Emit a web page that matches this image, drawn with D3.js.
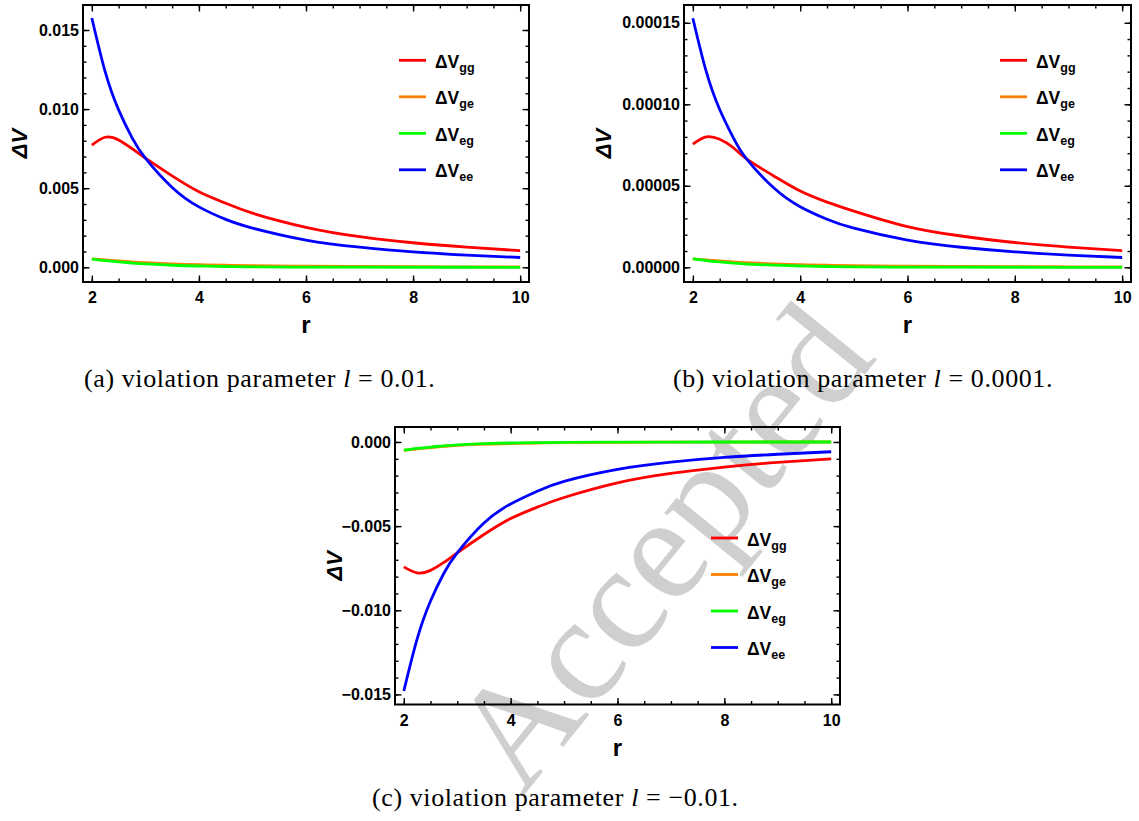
<!DOCTYPE html>
<html>
<head>
<meta charset="utf-8">
<script src="https://cdn.jsdelivr.net/npm/d3@7"></script>
<style>
  body { margin: 0; background: #fff; }
  svg { display: block; }
</style>
</head>
<body>
<div class="svgHolder"></div>
<script>
const wd = 1139
const ht = 821

// sampled r values (same for every panel)
const rValues = [2, 2.25, 2.5, 2.75, 3, 3.5, 4, 4.5, 5, 6, 7, 8, 9, 10]

// panel (a) l = 0.01
const ggA = [0.00772, 0.00822, 0.00805, 0.00750, 0.00690, 0.00578, 0.00478, 0.00405, 0.00342, 0.00253, 0.00194, 0.00155, 0.00127, 0.00105]
const geA = [0.00053, 0.00046, 0.00040, 0.00034, 0.00029, 0.00021, 0.00016, 0.00013, 0.00010, 0.00007, 0.00005, 0.00004, 0.00003, 0.00002]
const egA = [0.00052, 0.00042, 0.00034, 0.00027, 0.00021, 0.00013, 0.00008, 0.00005, 0.00003, 0.00001, 0.000005, 0.000002, 0.000001, 0]
const eeA = [0.01576, 0.01235, 0.00995, 0.00820, 0.00690, 0.00505, 0.00382, 0.00303, 0.00248, 0.00172, 0.00127, 0.00097, 0.00077, 0.00062]

// panel (b) l = 0.0001
const ggB = [0.0000756, 0.0000800, 0.0000785, 0.0000735, 0.0000665, 0.0000562, 0.0000468, 0.0000400, 0.0000345, 0.0000250, 0.0000192, 0.0000152, 0.0000124, 0.0000102]
const geB = [0.0000052, 0.0000045, 0.0000039, 0.0000033, 0.0000028, 0.0000021, 0.0000016, 0.0000013, 0.0000010, 0.0000007, 0.0000005, 0.0000004, 0.0000003, 0.0000002]
const egB = [0.0000051, 0.0000041, 0.0000033, 0.0000026, 0.0000020, 0.0000013, 0.0000008, 0.0000005, 0.0000003, 0.0000001, 0.00000005, 0.00000002, 0.00000001, 0]
const eeB = [0.0001528, 0.0001200, 0.0000968, 0.0000797, 0.0000665, 0.0000490, 0.0000372, 0.0000295, 0.0000240, 0.0000167, 0.0000123, 0.0000095, 0.0000075, 0.0000060]

// panel (c) l = -0.01
const ggC = [-0.00742, -0.00778, -0.00763, -0.00716, -0.00659, -0.00550, -0.00455, -0.00387, -0.00330, -0.00243, -0.00187, -0.00149, -0.00121, -0.00100]
const geC = [-0.00050, -0.00041, -0.00033, -0.00026, -0.00020, -0.00013, -0.00009, -0.00006, -0.00004, -0.00002, -0.00001, -0.000005, -0.000002, -0.000001]
const egC = [-0.00048, -0.00038, -0.00030, -0.00023, -0.00017, -0.00010, -0.00006, -0.00004, -0.00002, -0.00001, -0.000005, -0.000002, -0.000001, 0]
const eeC = [-0.0148, -0.0117, -0.00945, -0.00780, -0.00659, -0.00482, -0.00368, -0.00292, -0.00234, -0.00163, -0.00120, -0.00092, -0.00073, -0.00058]

const seriesNames = ["gg", "ge", "eg", "ee"]
const seriesCols = ["rgb(255,0,0)", "rgb(255,128,0)", "rgb(0,255,0)", "rgb(0,0,255)"]

const xTicks = [2, 4, 6, 8, 10]
const yTicksA = [0, 0.005, 0.010, 0.015]
const yTicksB = [0, 0.00005, 0.00010, 0.00015]
const yTicksC = [-0.015, -0.010, -0.005, 0]

const captions = [
  {tag: "(a) violation parameter ", val: " = 0.01."},
  {tag: "(b) violation parameter ", val: " = 0.0001."},
  {tag: "(c) violation parameter ", val: " = \u22120.01."}
]

const xDomain = [1.835, 10.165]

const panels = [
  {series: [ggA, geA, egA, eeA], yTicks: yTicksA, yMinor: 0.001, fmt: ".3f", yDomain: [-0.00093, 0.01658],
   left: 83, right: 529, top: 5, bottom: 282, labX: 19, legTop: 60.3, cap: captions[0], capX: 84, capY: 387},
  {series: [ggB, geB, egB, eeB], yTicks: yTicksB, yMinor: 0.00001, fmt: ".5f", yDomain: [-0.00000902, 0.0001609],
   left: 684, right: 1131, top: 5, bottom: 282, labX: 603, legTop: 60.3, cap: captions[1], capX: 673, capY: 387},
  {series: [ggC, geC, egC, eeC], yTicks: yTicksC, yMinor: 0.001, fmt: ".3f", yDomain: [-0.0156, 0.00089],
   left: 395, right: 840, top: 427, bottom: 704.5, labX: 334, legTop: 538, cap: captions[2], capX: 372, capY: 806}
]

const svg = d3.select(".svgHolder").append("svg")
.attr("width", wd)
.attr("height", ht)
.style("font-family", "'Liberation Sans', Arial, sans-serif")

// publisher watermark, sits under the plots
svg.append("text")
.attr("transform", "translate(700,578) rotate(-51)")
.attr("text-anchor", "middle")
.style("font-family", "'Liberation Serif', serif")
.style("font-size", "150px")
.attr("fill", "#cfcfcf")
.text("Accepted")

function drawPanel(p) {
  const g = svg.append("g")

  const x = d3.scaleLinear().domain(xDomain).range([p.left, p.right])
  const y = d3.scaleLinear().domain(p.yDomain).range([p.bottom, p.top])

  const xMinor = d3.range(2, 10.01, 0.5)
  const yMinor = d3.range(p.yTicks[0], p.yTicks[p.yTicks.length - 1] + p.yMinor / 2, p.yMinor)
    .filter(v => v >= p.yDomain[0] && v <= p.yDomain[1])

  const fmt = d3.format(p.fmt)

  // ticks point inward on all four sides
  const addAxis = (axisFn, scale, vals, size, pos) => {
    const ax = axisFn(scale).tickValues(vals).tickSizeInner(-size).tickSizeOuter(0).tickFormat("")
    const a = g.append("g").attr("transform", pos).call(ax)
    a.select(".domain").remove()
    a.selectAll("line").attr("stroke", "#000").attr("stroke-width", 1.4)
    return a
  }

  addAxis(d3.axisBottom, x, xMinor, 3.5, `translate(0,${p.bottom})`)
  addAxis(d3.axisTop, x, xMinor, 3.5, `translate(0,${p.top})`)
  addAxis(d3.axisTop, x, xTicks, 6.5, `translate(0,${p.top})`)
  addAxis(d3.axisLeft, y, yMinor, 3.5, `translate(${p.left},0)`)
  addAxis(d3.axisRight, y, yMinor, 3.5, `translate(${p.right},0)`)
  addAxis(d3.axisRight, y, p.yTicks, 6.5, `translate(${p.right},0)`)

  const bx = d3.axisBottom(x).tickValues(xTicks).tickSizeInner(-6.5).tickSizeOuter(0).tickPadding(10).tickFormat(d3.format("d"))
  const bottomAx = g.append("g").attr("transform", `translate(0,${p.bottom})`).call(bx)
  bottomAx.select(".domain").remove()
  bottomAx.selectAll("line").attr("stroke", "#000").attr("stroke-width", 1.4)

  const ly = d3.axisLeft(y).tickValues(p.yTicks).tickSizeInner(-6.5).tickSizeOuter(0).tickPadding(4).tickFormat(fmt)
  const leftAx = g.append("g").attr("transform", `translate(${p.left},0)`).call(ly)
  leftAx.select(".domain").remove()
  leftAx.selectAll("line").attr("stroke", "#000").attr("stroke-width", 1.4)

  g.selectAll(".tick text")
  .attr("fill", "#000")
  .style("font-family", "'Liberation Sans', Arial, sans-serif")
  .style("font-size", "16px")
  .style("font-weight", "bold")

  // curves
  const lineFunc = d3.line()
  .x((d, i) => x(rValues[i]))
  .y(d => y(d))
  .curve(d3.curveNatural)

  p.series.forEach((s, k) => {
    g.append("path")
    .attr("d", lineFunc(s))
    .attr("fill", "none")
    .style("stroke", seriesCols[k])
    .style("stroke-width", "2.8px")
    .style("stroke-linejoin", "round")
  })

  // frame
  g.append("rect")
  .attr("x", p.left)
  .attr("y", p.top)
  .attr("width", p.right - p.left)
  .attr("height", p.bottom - p.top)
  .attr("fill", "none")
  .attr("stroke", "#000")
  .attr("stroke-width", 2)

  // legend
  const lx = p.left + 316
  seriesNames.forEach((nm, k) => {
    const ly0 = p.legTop + k * 36.5
    g.append("line")
    .attr("x1", lx).attr("x2", lx + 27)
    .attr("y1", ly0).attr("y2", ly0)
    .style("stroke", seriesCols[k])
    .style("stroke-width", "2.8px")
    const t = g.append("text")
    .attr("x", lx + 36)
    .attr("y", ly0 + 7.5)
    .style("font-weight", "bold")
    .style("font-size", "17.5px")
    .text("\u0394V")
    t.append("tspan")
    .attr("dy", 4)
    .style("font-size", "12.5px")
    .text(nm)
  })

  // axis labels
  const cy = (p.top + p.bottom) / 2
  g.append("text")
  .attr("transform", `translate(${p.labX},${cy}) rotate(-90)`)
  .attr("text-anchor", "middle")
  .attr("dy", "0.35em")
  .style("font-weight", "bold")
  .style("font-style", "italic")
  .style("font-size", "22px")
  .text("\u0394V")

  g.append("text")
  .attr("x", (x(2) + x(10)) / 2)
  .attr("y", p.bottom + 51)
  .attr("text-anchor", "middle")
  .style("font-weight", "bold")
  .style("font-size", "24px")
  .text("r")

  // caption
  const c = svg.append("text")
  .attr("x", p.capX)
  .attr("y", p.capY)
  .style("font-family", "'Liberation Serif', 'Times New Roman', serif")
  .style("font-size", "26px")
  .style("letter-spacing", "0.6px")
  .attr("fill", "#000")
  c.append("tspan").text(p.cap.tag)
  c.append("tspan").style("font-style", "italic").text("l")
  c.append("tspan").text(p.cap.val)
}

panels.forEach(drawPanel)
</script>
</body>
</html>
